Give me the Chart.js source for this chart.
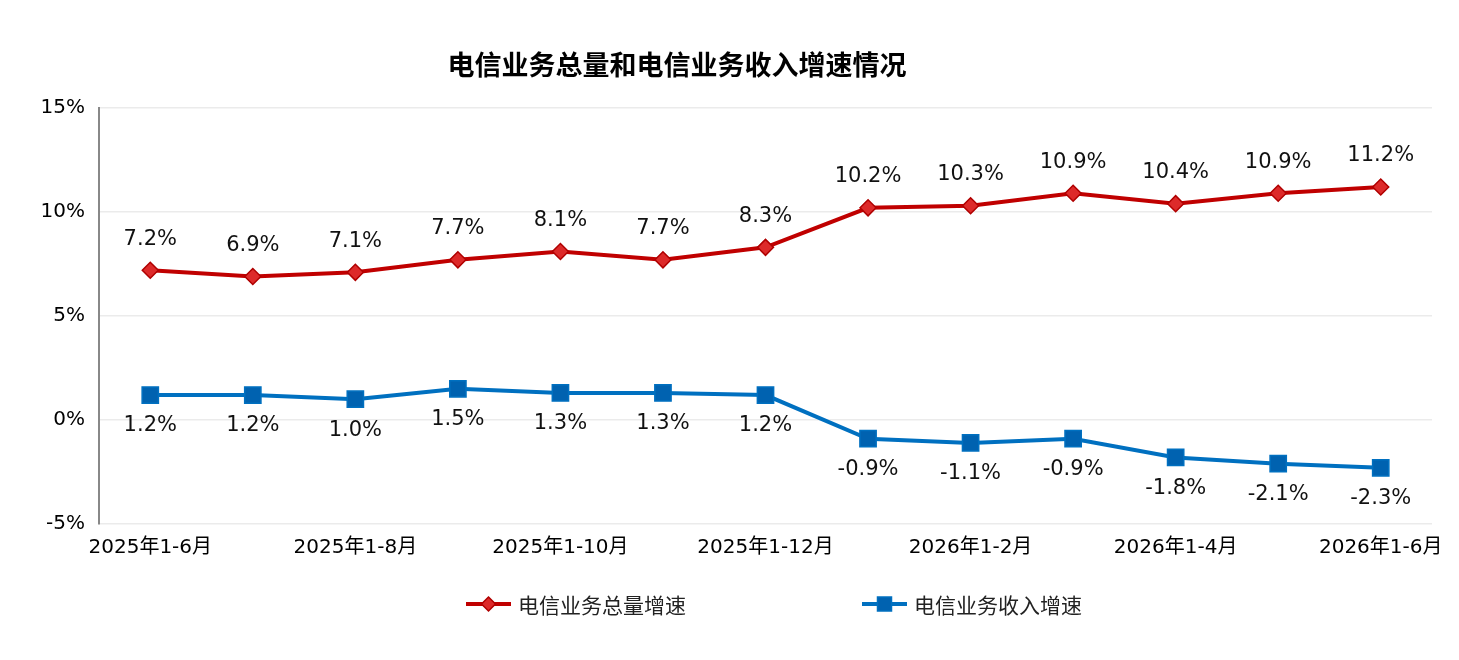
<!DOCTYPE html>
<html>
<head>
<meta charset="utf-8">
<script src="https://cdn.jsdelivr.net/npm/chart.js@4.4.1/dist/chart.umd.min.js"></script>
<style>
  html, body { margin: 0; padding: 0; background: #fff; }
  #wrap { width: 1459px; height: 660px; }
</style>
</head>
<body>
<div id="wrap"><canvas id="myChart"></canvas></div>
<script>
const categories = [
    '2025年1-6月', '2025年1-7月', '2025年1-8月', '2025年1-9月',
    '2025年1-10月', '2025年1-11月', '2025年1-12月', '2026年1月',
    '2026年1-2月', '2026年1-3月', '2026年1-4月', '2026年1-5月', '2026年1-6月'
];
const totalGrowth = [7.2, 6.9, 7.1, 7.7, 8.1, 7.7, 8.3, 10.2, 10.3, 10.9, 10.4, 10.9, 11.2];
const revenueGrowth = [1.2, 1.2, 1.0, 1.5, 1.3, 1.3, 1.2, -0.9, -1.1, -0.9, -1.8, -2.1, -2.3];
const yTicks = [-5, 0, 5, 10, 15];

const titleText = '电信业务总量和电信业务收入增速情况';
const seriesNames = ['电信业务总量增速', '电信业务收入增速'];

const RED = '#c00000';
const BLUE = '#0070c0';
const LABEL_FONT = '21px "DejaVu Sans", "Noto Sans CJK SC", sans-serif';

// value labels above red points, below blue points
const valueLabels = {
    id: 'valueLabels',
    afterDatasetsDraw(chart) {
        const ctx = chart.ctx;
        ctx.save();
        ctx.font = LABEL_FONT;
        ctx.fillStyle = '#111';
        ctx.textAlign = 'center';
        ctx.textBaseline = 'middle';
        chart.data.datasets.forEach((ds, i) => {
            const meta = chart.getDatasetMeta(i);
            meta.data.forEach((pt, j) => {
                const dy = i === 0 ? -31 : 31;
                ctx.fillText(ds.data[j].toFixed(1) + '%', pt.x, pt.y + dy);
            });
        });
        ctx.restore();
    }
};

const titleAndLegend = {
    id: 'titleAndLegend',
    afterDraw(chart) {
        const ctx = chart.ctx;
        ctx.save();
        ctx.fillStyle = '#000';
        ctx.font = 'bold 27px "Noto Sans CJK SC", sans-serif';
        ctx.textAlign = 'center';
        ctx.textBaseline = 'middle';
        ctx.fillText(titleText, 677, 65);

        // legend
        const y = 604;
        const items = [
            { x: 466, color: RED, style: 'diamond', text: seriesNames[0] },
            { x: 862, color: BLUE, style: 'square', text: seriesNames[1] }
        ];
        ctx.font = '21px "Noto Sans CJK SC", sans-serif';
        ctx.textAlign = 'left';
        items.forEach(it => {
            ctx.strokeStyle = it.color;
            ctx.lineWidth = 4;
            ctx.beginPath();
            ctx.moveTo(it.x, y);
            ctx.lineTo(it.x + 45, y);
            ctx.stroke();
            const cx = it.x + 22.5;
            ctx.lineWidth = 1.5;
            if (it.style === 'diamond') {
                ctx.fillStyle = '#dd2a2a';
                ctx.strokeStyle = '#b00000';
                ctx.beginPath();
                ctx.moveTo(cx, y - 7);
                ctx.lineTo(cx + 7, y);
                ctx.lineTo(cx, y + 7);
                ctx.lineTo(cx - 7, y);
                ctx.closePath();
                ctx.fill();
                ctx.stroke();
            } else {
                ctx.fillStyle = '#0062b0';
                ctx.strokeStyle = '#0070c0';
                ctx.fillRect(cx - 7, y - 7, 14, 14);
                ctx.strokeRect(cx - 7, y - 7, 14, 14);
            }
            ctx.fillStyle = '#222';
            ctx.fillText(it.text, it.x + 52, y + 1);
        });
        ctx.restore();
    }
};

const data = {
    labels: categories,
    datasets: [{
        label: seriesNames[0],
        data: totalGrowth,
        borderColor: RED,
        backgroundColor: '#dd2a2a',
        borderWidth: 4,
        pointStyle: 'rectRot',
        pointRadius: 8,
        pointHoverRadius: 8,
        pointBorderColor: '#b00000',
        pointBorderWidth: 1.5,
        tension: 0
    }, {
        label: seriesNames[1],
        data: revenueGrowth,
        borderColor: BLUE,
        backgroundColor: '#0062b0',
        borderWidth: 4,
        pointStyle: 'rect',
        pointRadius: 11.5,
        pointHoverRadius: 11.5,
        pointBorderColor: '#0070c0',
        pointBorderWidth: 1.5,
        tension: 0
    }]
};

const config = {
    type: 'line',
    data: data,
    plugins: [valueLabels, titleAndLegend],
    options: {
        responsive: true,
        maintainAspectRatio: false,
        animation: false,
        layout: { padding: { top: 108, right: 27, bottom: 88, left: 0 } },
        plugins: {
            legend: { display: false },
            title: { display: false },
            tooltip: { enabled: false }
        },
        scales: {
            x: {
                offset: true,
                grid: { display: false, drawTicks: false },
                border: { display: false },
                ticks: {
                    autoSkip: false,
                    maxRotation: 0,
                    padding: 12,
                    color: '#000',
                    font: { family: '"DejaVu Sans", "Noto Sans CJK SC", sans-serif', size: 20 },
                    callback: function(value, index) {
                        return index % 2 === 0 ? this.getLabelForValue(value) : '';
                    }
                }
            },
            y: {
                min: -5,
                max: 15,
                afterBuildTicks: scale => { scale.ticks = yTicks.map(v => ({ value: v })); },
                afterFit: scale => { scale.width = 99; },
                grid: { color: '#ebebeb', lineWidth: 1.5, drawTicks: false },
                border: { display: true, color: '#888', width: 2 },
                ticks: {
                    padding: 14,
                    color: '#000',
                    font: { family: '"DejaVu Sans", sans-serif', size: 20 },
                    callback: v => v + '%'
                }
            }
        }
    }
};

const myChart = new Chart(
    document.getElementById('myChart'),
    config
);
</script>
</body>
</html>
